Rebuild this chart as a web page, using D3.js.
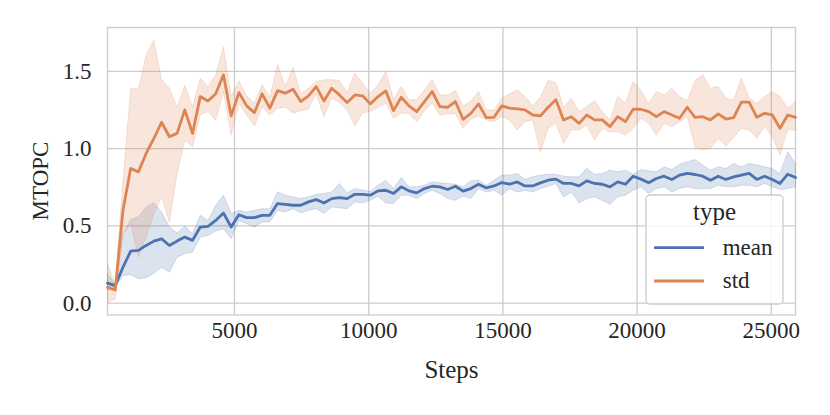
<!DOCTYPE html>
<html>
<head>
<meta charset="utf-8">
<script src="https://cdn.jsdelivr.net/npm/d3@7"></script>
<style>
body { margin: 0; background: #fff; }
text { font-family: "Liberation Serif", "Times New Roman", serif; fill: #262626; }
</style>
</head>
<body>
<script>
// training steps (x values)
var steps = [288, 576, 864, 1152, 1440, 1728, 2016, 2304, 2592, 2880,
    3168, 3456, 3744, 4032, 4320, 4608, 4896, 5184, 5472, 5760,
    6048, 6336, 6624, 6912, 7200, 7488, 7776, 8064, 8352, 8640,
    8928, 9216, 9504, 9792, 10080, 10368, 10656, 10944, 11232, 11520,
    11808, 12096, 12384, 12672, 12960, 13248, 13536, 13824, 14112, 14400,
    14688, 14976, 15264, 15552, 15840, 16128, 16416, 16704, 16992, 17280,
    17568, 17856, 18144, 18432, 18720, 19008, 19296, 19584, 19872, 20160,
    20448, 20736, 21024, 21312, 21600, 21888, 22176, 22464, 22752, 23040,
    23328, 23616, 23904, 24192, 24480, 24768, 25056, 25344, 25632, 25920];

// "mean" series: line, lower and upper band
var meanLine = [0.126, 0.110, 0.229, 0.333, 0.338, 0.370, 0.398, 0.413, 0.370, 0.398,
    0.424, 0.403, 0.489, 0.494, 0.532, 0.580, 0.489, 0.569, 0.550, 0.550,
    0.565, 0.565, 0.641, 0.636, 0.630, 0.630, 0.652, 0.667, 0.645, 0.673,
    0.680, 0.673, 0.701, 0.701, 0.695, 0.723, 0.727, 0.706, 0.749, 0.723,
    0.710, 0.738, 0.753, 0.749, 0.732, 0.753, 0.721, 0.738, 0.766, 0.742,
    0.755, 0.777, 0.766, 0.781, 0.755, 0.755, 0.775, 0.792, 0.799, 0.771,
    0.771, 0.755, 0.788, 0.771, 0.766, 0.749, 0.781, 0.766, 0.818, 0.799,
    0.775, 0.803, 0.818, 0.797, 0.825, 0.836, 0.829, 0.818, 0.792, 0.818,
    0.797, 0.814, 0.825, 0.836, 0.797, 0.818, 0.797, 0.771, 0.831, 0.810];
var meanLow = [0.078, 0.100, 0.175, 0.182, 0.154, 0.160, 0.190, 0.229, 0.197, 0.294,
    0.316, 0.327, 0.424, 0.435, 0.463, 0.478, 0.413, 0.532, 0.511, 0.489,
    0.522, 0.522, 0.597, 0.587, 0.608, 0.580, 0.597, 0.608, 0.576, 0.619,
    0.613, 0.608, 0.652, 0.645, 0.662, 0.688, 0.645, 0.641, 0.695, 0.695,
    0.673, 0.706, 0.727, 0.706, 0.673, 0.662, 0.690, 0.673, 0.738, 0.716,
    0.727, 0.695, 0.738, 0.716, 0.727, 0.716, 0.738, 0.753, 0.771, 0.684,
    0.716, 0.645, 0.673, 0.684, 0.662, 0.636, 0.684, 0.695, 0.727, 0.749,
    0.706, 0.738, 0.749, 0.716, 0.738, 0.749, 0.738, 0.738, 0.738, 0.760,
    0.749, 0.749, 0.760, 0.760, 0.749, 0.771, 0.749, 0.732, 0.738, 0.749];
var meanHigh = [0.186, 0.121, 0.446, 0.537, 0.554, 0.619, 0.645, 0.586, 0.489, 0.450,
    0.494, 0.446, 0.565, 0.532, 0.630, 0.695, 0.576, 0.597, 0.586, 0.597,
    0.608, 0.608, 0.716, 0.695, 0.684, 0.673, 0.684, 0.701, 0.706, 0.716,
    0.771, 0.710, 0.738, 0.727, 0.720, 0.760, 0.792, 0.738, 0.810, 0.749,
    0.749, 0.760, 0.781, 0.775, 0.771, 0.766, 0.749, 0.788, 0.792, 0.760,
    0.792, 0.825, 0.825, 0.836, 0.797, 0.814, 0.825, 0.831, 0.831, 0.818,
    0.814, 0.814, 0.868, 0.831, 0.836, 0.857, 0.846, 0.857, 0.831, 0.861,
    0.853, 0.846, 0.879, 0.861, 0.896, 0.911, 0.926, 0.890, 0.857, 0.879,
    0.868, 0.900, 0.879, 0.900, 0.890, 0.879, 0.868, 0.836, 0.976, 0.900];

// "std" series: line, lower and upper band
var stdLine = [0.099, 0.082, 0.597, 0.868, 0.846, 0.965, 1.063, 1.167, 1.073, 1.095,
    1.247, 1.095, 1.333, 1.305, 1.351, 1.474, 1.208, 1.359, 1.273, 1.229,
    1.351, 1.258, 1.372, 1.355, 1.381, 1.301, 1.338, 1.398, 1.305, 1.387,
    1.344, 1.294, 1.344, 1.338, 1.286, 1.333, 1.370, 1.242, 1.329, 1.273,
    1.236, 1.301, 1.366, 1.268, 1.264, 1.301, 1.186, 1.225, 1.286, 1.197,
    1.199, 1.273, 1.258, 1.253, 1.247, 1.214, 1.208, 1.264, 1.312, 1.182,
    1.203, 1.160, 1.214, 1.182, 1.182, 1.139, 1.203, 1.171, 1.251, 1.251,
    1.236, 1.203, 1.236, 1.214, 1.193, 1.264, 1.199, 1.203, 1.182, 1.221,
    1.188, 1.197, 1.297, 1.297, 1.199, 1.225, 1.214, 1.128, 1.214, 1.199];
var stdLow = [0.002, 0.024, 0.446, 0.511, 0.294, 0.424, 0.576, 0.684, 0.522, 0.836,
    1.052, 1.009, 1.214, 1.236, 1.182, 1.366, 1.084, 1.290, 1.214, 1.143,
    1.268, 1.214, 1.258, 1.264, 1.225, 1.242, 1.251, 1.351, 1.203, 1.323,
    1.294, 1.247, 1.143, 1.229, 1.236, 1.264, 1.290, 1.193, 1.225, 1.225,
    1.171, 1.242, 1.290, 1.214, 1.221, 1.225, 1.128, 1.186, 1.208, 1.182,
    1.171, 1.203, 1.182, 1.117, 1.171, 1.182, 0.976, 1.128, 1.160, 1.030,
    1.117, 1.117, 1.149, 1.052, 1.128, 1.106, 1.106, 1.084, 1.128, 1.193,
    1.160, 1.084, 1.160, 1.139, 1.171, 1.203, 1.004, 0.991, 0.998, 1.063,
    1.013, 1.069, 1.128, 1.117, 1.063, 1.139, 1.074, 0.955, 1.121, 1.113];
var stdHigh = [0.251, 0.121, 0.792, 1.383, 1.383, 1.604, 1.697, 1.442, 1.387, 1.264,
    1.405, 1.264, 1.452, 1.398, 1.474, 1.654, 1.333, 1.435, 1.338, 1.290,
    1.409, 1.329, 1.539, 1.398, 1.522, 1.351, 1.387, 1.431, 1.442, 1.442,
    1.437, 1.359, 1.485, 1.420, 1.355, 1.409, 1.496, 1.316, 1.398, 1.312,
    1.312, 1.377, 1.442, 1.344, 1.344, 1.372, 1.273, 1.301, 1.366, 1.247,
    1.247, 1.323, 1.351, 1.377, 1.333, 1.273, 1.329, 1.437, 1.424, 1.264,
    1.323, 1.236, 1.268, 1.307, 1.236, 1.182, 1.333, 1.290, 1.431, 1.372,
    1.286, 1.366, 1.344, 1.387, 1.333, 1.307, 1.437, 1.474, 1.387, 1.398,
    1.323, 1.312, 1.452, 1.323, 1.290, 1.333, 1.366, 1.333, 1.258, 1.301];

var seriesNames = ["mean", "std"];
var xTicks = [5000, 10000, 15000, 20000, 25000];
var yTicks = [0.0, 0.5, 1.0, 1.5];
var yDomain = [-0.08, 1.78];

function drawChart() {
    var svg_width = 830;
    var svg_height = 415;
    var left = 107.5, right = 795.5, top = 27.5, bottom = 315;
    var gridColor = "#cccccc";
    var colors = {"mean": "#4c72b0", "std": "#dd8452"};

    var series = [
        {name: seriesNames[0], line: meanLine, low: meanLow, high: meanHigh},
        {name: seriesNames[1], line: stdLine, low: stdLow, high: stdHigh}
    ];

    var xScale = d3.scaleLinear()
                    .domain([steps[0], steps[steps.length - 1]])
                    .range([left, right]);

    var yScale = d3.scaleLinear()
                    .domain(yDomain)
                    .range([bottom, top]);

    var svg = d3.select("body")
                .append("svg")
                .attr("width", svg_width)
                .attr("height", svg_height);

    svg.append("rect")
        .attr("width", svg_width)
        .attr("height", svg_height)
        .attr("fill", "#ffffff");

    // x grid + tick labels
    var xAxis = svg.append("g")
                   .attr("transform", "translate(0," + bottom + ")")
                   .call(d3.axisBottom(xScale)
                           .tickValues(xTicks)
                           .tickSize(-(bottom - top))
                           .tickPadding(6.5)
                           .tickFormat(d3.format("d")));

    // y grid + tick labels
    var yAxis = svg.append("g")
                   .attr("transform", "translate(" + left + ",0)")
                   .call(d3.axisLeft(yScale)
                           .tickValues(yTicks)
                           .tickSize(-(right - left))
                           .tickPadding(16)
                           .tickFormat(d3.format(".1f")));

    [xAxis, yAxis].forEach(function(ax) {
        ax.select(".domain").remove();
        ax.selectAll("line")
          .attr("stroke", gridColor)
          .attr("stroke-width", 1.3);
        ax.selectAll("text")
          .style("font-size", "23px")
          .style("font-family", "'Liberation Serif', 'Times New Roman', serif")
          .attr("fill", "#262626");
    });

    // frame
    svg.append("rect")
        .attr("x", left)
        .attr("y", top)
        .attr("width", right - left)
        .attr("height", bottom - top)
        .attr("fill", "none")
        .attr("stroke", gridColor)
        .attr("stroke-width", 1.3);

    var area = d3.area()
                 .x(function(d, i) { return xScale(steps[i]); })
                 .y0(function(d) { return yScale(d[0]); })
                 .y1(function(d) { return yScale(d[1]); });

    var line = d3.line()
                 .x(function(d, i) { return xScale(steps[i]); })
                 .y(function(d) { return yScale(d); });

    // bands first, then lines on top
    series.forEach(function(s) {
        var bandData = s.low.map(function(v, i) { return [v, s.high[i]]; });
        svg.append("path")
            .attr("d", area(bandData))
            .attr("fill", colors[s.name])
            .attr("fill-opacity", 0.2)
            .attr("stroke", colors[s.name])
            .attr("stroke-opacity", 0.2)
            .attr("stroke-width", 1);
    });

    series.forEach(function(s) {
        svg.append("path")
            .attr("d", line(s.line))
            .attr("fill", "none")
            .attr("stroke", colors[s.name])
            .attr("stroke-width", 2.8)
            .attr("stroke-linejoin", "round")
            .attr("stroke-linecap", "round");
    });

    // axis labels
    svg.append("text")
        .attr("x", (left + right) / 2)
        .attr("y", 378)
        .attr("text-anchor", "middle")
        .style("font-size", "25px")
        .text("Steps");

    svg.append("text")
        .attr("transform", "translate(48,181) rotate(-90)")
        .attr("text-anchor", "middle")
        .style("font-size", "23px")
        .text("MTOPC");

    // legend
    var legend = svg.append("g");
    legend.append("rect")
        .attr("x", 646)
        .attr("y", 195)
        .attr("width", 137)
        .attr("height", 109)
        .attr("rx", 4)
        .attr("fill", "#ffffff")
        .attr("fill-opacity", 0.8)
        .attr("stroke", gridColor)
        .attr("stroke-width", 1.3);

    legend.append("text")
        .attr("x", 714.5)
        .attr("y", 220)
        .attr("text-anchor", "middle")
        .style("font-size", "25px")
        .text("type");

    seriesNames.forEach(function(name, i) {
        var ly = 247.7 + i * 33.3;
        legend.append("line")
            .attr("x1", 654)
            .attr("x2", 704)
            .attr("y1", ly)
            .attr("y2", ly)
            .attr("stroke", colors[name])
            .attr("stroke-width", 2.8);
        legend.append("text")
            .attr("x", 722.7)
            .attr("y", ly + 7.3)
            .style("font-size", "23px")
            .text(name);
    });
}

window.onload = function() {
    drawChart();
};
</script>
</body>
</html>
